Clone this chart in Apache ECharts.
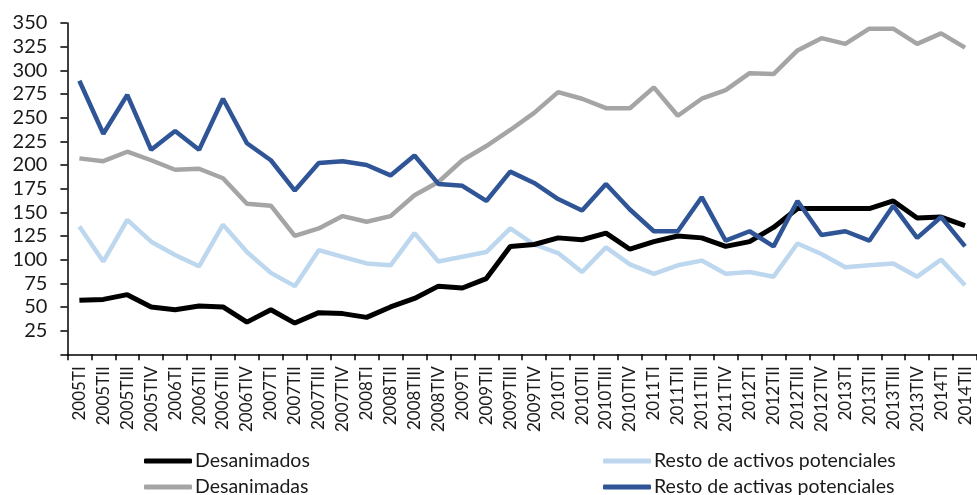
<!DOCTYPE html>
<html>
<head>
<meta charset="utf-8">
<script src="https://cdn.jsdelivr.net/npm/echarts@6/dist/echarts.min.js"></script>
<style>
html,body{margin:0;padding:0;background:#fff;}
#chart{width:977px;height:495px;}
</style>
</head>
<body>
<div id="chart"></div>
<script>
const categories = [
  '2005TI','2005TII','2005TIII','2005TIV',
  '2006TI','2006TII','2006TIII','2006TIV',
  '2007TI','2007TII','2007TIII','2007TIV',
  '2008TI','2008TII','2008TIII','2008TIV',
  '2009TI','2009TII','2009TIII','2009TIV',
  '2010TI','2010TII','2010TIII','2010TIV',
  '2011TI','2011TII','2011TIII','2011TIV',
  '2012TI','2012TII','2012TIII','2012TIV',
  '2013TI','2013TII','2013TIII','2013TIV',
  '2014TI','2014TII'
];
const desanimados = [57,58,63,50,47,51,50,34,47,33,44,43,39,50,59,72,70,80,114,116,123,121,128,111,119,125,123,114,119,134,154,154,154,154,162,144,145,136];
const desanimadas = [207,204,214,205,195,196,186,159,157,125,133,146,140,146,168,182,205,220,237,255,277,270,260,260,282,252,270,279,297,296,321,334,328,344,344,328,339,324];
const restoActivos = [135,98,142,119,105,93,137,108,86,72,110,103,96,94,128,98,103,108,133,116,107,87,113,95,85,94,99,85,87,82,117,106,92,94,96,82,100,73];
const restoActivas = [289,233,274,216,236,216,270,223,205,173,202,204,200,189,210,180,178,162,193,181,164,152,180,153,130,130,166,120,130,114,162,126,130,120,157,123,145,114];
const yTicks = {min: 0, max: 350, interval: 25};

const FONT = 'Lato';
function legendItem(name, left, top) {
  return {
    orient: 'horizontal', left: left, top: top, padding: 0,
    itemWidth: 48, itemHeight: 5, icon: 'roundRect',
    textStyle: {fontFamily: FONT, fontSize: 19.5, color: '#1a1a1a', padding: [0,0,0,-2]},
    data: [name]
  };
}
const chart = echarts.init(document.getElementById('chart'));
chart.setOption({
  animation: false,
  backgroundColor: '#ffffff',
  grid: {left: 67.4, top: 23, bottom: 140.7, right: -6.2, containLabel: false},
  legend: [
    legendItem('Desanimados', 144, 451),
    legendItem('Desanimadas', 144, 477),
    legendItem('Resto de activos potenciales', 603, 451),
    legendItem('Resto de activas potenciales', 603, 477)
  ],
  xAxis: {
    type: 'category',
    data: categories,
    boundaryGap: true,
    axisLine: {show: true, lineStyle: {color: '#000', width: 1.5}},
    axisTick: {show: true, alignWithLabel: false, length: 6, lineStyle: {color: '#000', width: 1.5}},
    axisLabel: {interval: 0, rotate: 90, margin: 12, fontFamily: FONT, fontSize: 17, color: '#1a1a1a'},
    splitLine: {show: false}
  },
  yAxis: {
    type: 'value',
    min: yTicks.min, max: yTicks.max, interval: yTicks.interval,
    axisLine: {show: true, lineStyle: {color: '#000', width: 1.5}},
    axisTick: {show: true, length: 7, lineStyle: {color: '#000', width: 1.5}},
    axisLabel: {margin: 20, fontFamily: FONT, fontSize: 20, color: '#1a1a1a',
      formatter: v => v === 0 ? '' : String(v)},
    splitLine: {show: false}
  },
  series: [
    {name: 'Resto de activos potenciales', type: 'line', data: restoActivos, showSymbol: false,
      lineStyle: {color: '#BDD7EE', width: 4.5}, itemStyle: {color: '#BDD7EE'}},
    {name: 'Desanimados', type: 'line', data: desanimados, showSymbol: false,
      lineStyle: {color: '#000000', width: 5}, itemStyle: {color: '#000000'}},
    {name: 'Desanimadas', type: 'line', data: desanimadas, showSymbol: false,
      lineStyle: {color: '#A5A5A5', width: 4.5}, itemStyle: {color: '#A5A5A5'}},
    {name: 'Resto de activas potenciales', type: 'line', data: restoActivas, showSymbol: false,
      lineStyle: {color: '#2F5597', width: 4.5}, itemStyle: {color: '#2F5597'}}
  ]
});
</script>
</body>
</html>
